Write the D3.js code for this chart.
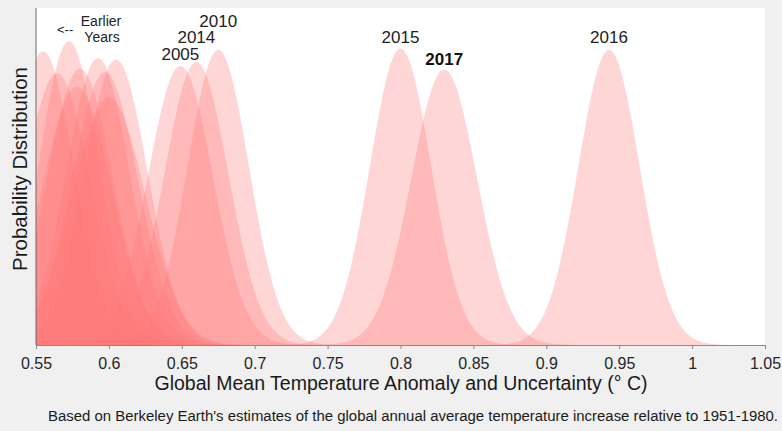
<!DOCTYPE html>
<html>
<head>
<meta charset="utf-8">
<script src="https://cdn.jsdelivr.net/npm/d3@7"></script>
<style>
    body { margin: 0; background: #f0f0f0; }
    svg { display: block; font-family: "Liberation Sans", Arial, sans-serif; }
</style>
</head>
<body>
<svg id="drawing_region"></svg>
<script>
// one entry per year: mean anomaly and 1-sigma uncertainty (deg C)
// the earlier years are not labelled in the picture
const years  = ["early1", "early2", "early3", "early4", "early5", "early6", "early7", "early8", "early9",
                "2005", "2014", "2010", "2015", "2017", "2016"];
const means  = [0.5548, 0.5644, 0.5726, 0.5780, 0.5802, 0.5925, 0.5973, 0.6000, 0.6049,
                0.649, 0.660, 0.675, 0.800, 0.830, 0.943];
const sigmas = [0.0211, 0.0228, 0.0204, 0.0240, 0.0224, 0.0216, 0.0227, 0.0250, 0.0217,
                0.0222, 0.0219, 0.0210, 0.0209, 0.0225, 0.0210];

const labelYears = ["2005", "2014", "2010", "2015", "2017", "2016"];
const xticks = [0.55, 0.6, 0.65, 0.7, 0.75, 0.8, 0.85, 0.9, 0.95, 1, 1.05];

var config = {
    parent: '#drawing_region',
    width: 782,
    height: 431,
    margin: {top:8, right:17, bottom:86, left:36}
};

const svg = d3.select(config.parent)
              .attr('width', config.width)
              .attr('height', config.height);

const inner_width = config.width - config.margin.left - config.margin.right;
const inner_height = config.height - config.margin.top - config.margin.bottom;

const chart = svg.append('g')
                 .attr('transform', `translate(${config.margin.left}, ${config.margin.top})`);

chart.append('rect')
     .attr('width', inner_width)
     .attr('height', inner_height)
     .attr('fill', 'white');

chart.append('clipPath')
     .attr('id', 'plot_clip')
     .append('rect')
     .attr('width', inner_width)
     .attr('height', inner_height);

const xscale = d3.scaleLinear()
                 .domain([0.55, 1.05])
                 .range([0, inner_width]);

const yscale = d3.scaleLinear()
                 .domain([0, 21.7])
                 .range([inner_height, 0]);

const pdf = (x, mu, s) => Math.exp(-0.5 * ((x - mu) / s) ** 2) / (s * Math.sqrt(2 * Math.PI));

const area = d3.area()
               .x(d => xscale(d[0]))
               .y0(yscale(0))
               .y1(d => yscale(d[1]));

const data = years.map((y, i) => {
    const xs = d3.range(means[i] - 5 * sigmas[i], means[i] + 5 * sigmas[i], 0.0005);
    return { year: y, mean: means[i], sigma: sigmas[i],
             pts: xs.map(x => [x, pdf(x, means[i], sigmas[i])]) };
});

chart.append('g')
     .attr('clip-path', 'url(#plot_clip)')
     .selectAll('path')
     .data(data)
     .enter()
     .append('path')
     .attr('d', d => area(d.pts))
     .attr('fill', 'rgb(255,120,120)')
     .attr('fill-opacity', 0.3);

// axes
const xaxis = d3.axisBottom(xscale)
                .tickValues(xticks)
                .tickSize(4)
                .tickSizeOuter(0)
                .tickFormat(d => d3.format('')(+d.toFixed(2)));

const xaxis_group = chart.append('g')
                         .attr('transform', `translate(0, ${inner_height})`)
                         .call(xaxis);
xaxis_group.select('.domain').attr('stroke', '#8a8a8a');
xaxis_group.selectAll('.tick line').attr('stroke', '#8a8a8a');
xaxis_group.selectAll('.tick text')
           .attr('fill', '#262626')
           .attr('font-size', '16px')
           .attr('font-family', '"Liberation Sans", Arial, sans-serif')
           .attr('dy', '1.05em');

chart.append('line')
     .attr('x1', 0).attr('x2', 0)
     .attr('y1', 0).attr('y2', inner_height)
     .attr('stroke', '#6a6a6a');

// year labels above the peaks
const labelDy = { "2005": 6, "2014": 19, "2010": 23, "2015": 6, "2017": 5, "2016": 7 };
chart.selectAll('.year_label')
     .data(data.filter(d => labelYears.includes(d.year)))
     .enter()
     .append('text')
     .attr('class', 'year_label')
     .attr('x', d => xscale(d.mean))
     .attr('y', d => yscale(pdf(d.mean, d.mean, d.sigma)) - labelDy[d.year])
     .attr('text-anchor', 'middle')
     .attr('font-size', '17px')
     .attr('font-weight', d => d.year == "2017" ? 'bold' : 'normal')
     .attr('fill', d => d.year == "2017" ? '#111' : '#222')
     .text(d => d.year);

// earlier years note
chart.append('text')
     .attr('x', 21).attr('y', 26)
     .attr('font-size', '13px')
     .attr('fill', '#222')
     .text('<--');
chart.append('text')
     .attr('x', 65).attr('y', 18)
     .attr('text-anchor', 'middle')
     .attr('font-size', '14px')
     .attr('fill', '#222')
     .text('Earlier');
chart.append('text')
     .attr('x', 66).attr('y', 34)
     .attr('text-anchor', 'middle')
     .attr('font-size', '14px')
     .attr('fill', '#222')
     .text('Years');

// axis titles
svg.append('text')
   .attr('x', 401)
   .attr('y', 390)
   .attr('text-anchor', 'middle')
   .attr('font-size', '19.5px')
   .attr('fill', '#1a1a1a')
   .text('Global Mean Temperature Anomaly and Uncertainty (\u00b0 C)');

svg.append('text')
   .attr('transform', 'translate(27, 169) rotate(-90)')
   .attr('text-anchor', 'middle')
   .attr('font-size', '20.5px')
   .attr('fill', '#1a1a1a')
   .text('Probability Distribution');

svg.append('text')
   .attr('x', 413)
   .attr('y', 421)
   .attr('text-anchor', 'middle')
   .attr('font-size', '14px')
   .attr('textLength', 730)
   .attr('lengthAdjust', 'spacingAndGlyphs')
   .attr('fill', '#1a1a1a')
   .text("Based on Berkeley Earth's estimates of the global annual average temperature increase relative to 1951-1980.");
</script>
</body>
</html>
